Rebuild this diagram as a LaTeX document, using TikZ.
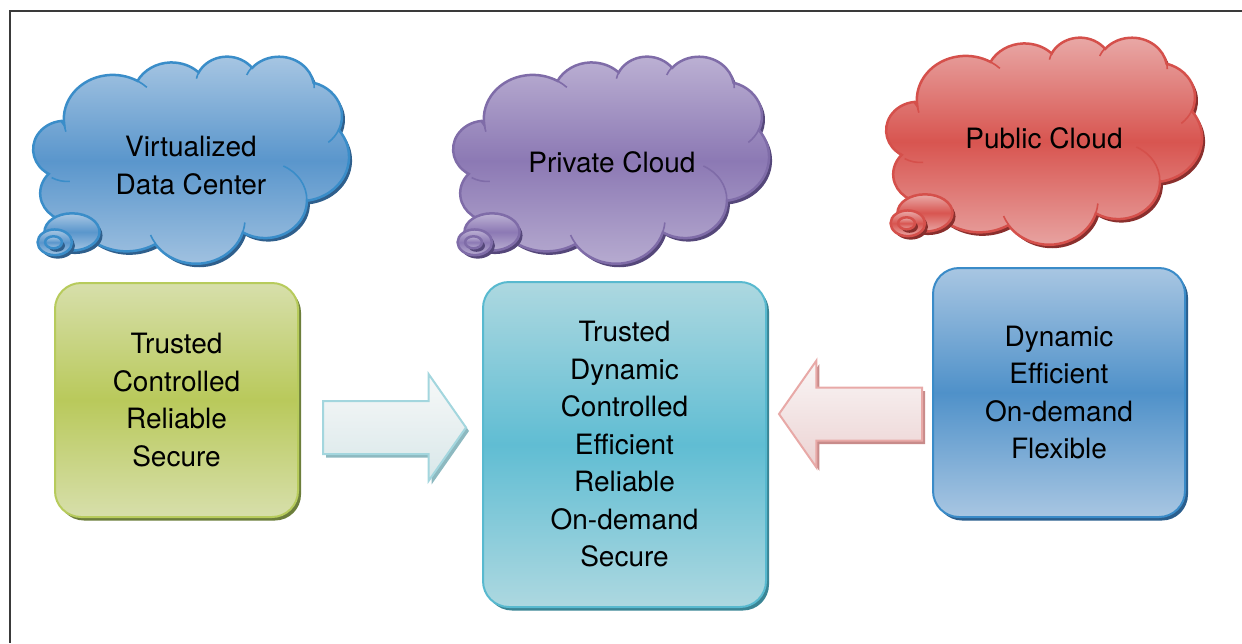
\documentclass[tikz,border=0pt]{standalone}
\usepackage{fontspec}
\setmainfont{TeX Gyre Heros}
\usetikzlibrary{shapes.arrows,shadows}

\definecolor{framecol}{HTML}{3A3A3A}
% clouds
\definecolor{vdcTop}{HTML}{A9C7E3}\definecolor{vdcMid}{HTML}{5A96CC}\definecolor{vdcBot}{HTML}{A3C3E1}
\definecolor{vdcLine}{HTML}{3A8DC9}\definecolor{vdcDark}{HTML}{2F5F8C}
\definecolor{prvTop}{HTML}{BDB2D4}\definecolor{prvMid}{HTML}{8C79B4}\definecolor{prvBot}{HTML}{B8ADD1}
\definecolor{prvLine}{HTML}{7F6CA8}\definecolor{prvDark}{HTML}{55477A}
\definecolor{pubTop}{HTML}{E9ABA9}\definecolor{pubMid}{HTML}{D85550}\definecolor{pubBot}{HTML}{E8A6A4}
\definecolor{pubLine}{HTML}{D5504B}\definecolor{pubDark}{HTML}{8A2F2D}
% boxes
\definecolor{grnTop}{HTML}{D7DFAB}\definecolor{grnMid}{HTML}{B9C95B}\definecolor{grnLine}{HTML}{B7CB5C}\definecolor{grnDark}{HTML}{6C7E3B}
\definecolor{tealTop}{HTML}{ADD8E0}\definecolor{tealMid}{HTML}{60BDD3}\definecolor{tealLine}{HTML}{58B9CF}\definecolor{tealDark}{HTML}{3A8595}
\definecolor{bluTop}{HTML}{A8C6E2}\definecolor{bluMid}{HTML}{4F91C9}\definecolor{bluLine}{HTML}{3A8BC8}\definecolor{bluDark}{HTML}{2A5E8D}
% block arrows
\definecolor{raTop}{HTML}{F7F8F8}\definecolor{raBot}{HTML}{D8E7E9}\definecolor{raLine}{HTML}{A3D6DE}\definecolor{raDark}{HTML}{8DB9C0}
\definecolor{laTop}{HTML}{F9F6F6}\definecolor{laBot}{HTML}{ECD2D2}\definecolor{laLine}{HTML}{E8A9A7}\definecolor{laDark}{HTML}{C88B8A}

% cloud outline on a 100x100 grid (y downwards)
\newcommand{\cloudbody}{(9.03,33.26)
  arc[start angle=-187.74, end angle=-59.64, x radius=15.63, y radius=21.27]
  arc[start angle=-152.03, end angle=-45.44, x radius=12.34, y radius=16.82]
  arc[start angle=-153.50, end angle=-37.33, x radius=10.10, y radius=13.76]
  arc[start angle=-139.72, end angle=-10.21, x radius=11.24, y radius=15.27]
  arc[start angle=-74.76, end angle=23.20, x radius=12.34, y radius=16.84]
  arc[start angle=-37.52, end angle=81.86, x radius=15.68, y radius=21.34]
  arc[start angle=0.46, end angle=121.99, x radius=13.39, y radius=18.21]
  arc[start angle=16.85, end angle=146.23, x radius=15.63, y radius=21.33]
  arc[start angle=58.98, end angle=155.96, x radius=17.87, y radius=24.41]
  arc[start angle=83.31, end angle=223.10, x radius=10.09, y radius=13.70]
  arc[start angle=120.34, end angle=264.11, x radius=10.06, y radius=13.76] -- cycle}
% the little folds inside the cloud
\newcommand{\cloudfolds}{
  (10.86,60.59) arc[start angle=85.54, end angle=120.34, x radius=10.06, y radius=13.76]
  (16.04,80.78) arc[start angle=68.23, end angle=83.31, x radius=10.09, y radius=13.70]
  (38.14,90.49) arc[start angle=146.23, end angle=158.47, x radius=15.63, y radius=21.33]
  (66.73,80.44) arc[start angle=4.73, end angle=16.85, x radius=15.63, y radius=21.33]
  (79.00,53.13) arc[start angle=-64.02, end angle=0.46, x radius=13.39, y radius=18.21]
  (96.75,35.54) arc[start angle=23.20, end angle=49.63, x radius=12.34, y radius=16.84]
  (88.71,12.56) arc[start angle=-10.21, end angle=0.82, x radius=11.24, y radius=15.27]
  (67.31,9.15) arc[start angle=-156.30, end angle=-139.72, x radius=11.24, y radius=15.27]
  (51.25,10.93) arc[start angle=-167.73, end angle=-153.50, x radius=10.10, y radius=13.76]
  (32.41,12.02) arc[start angle=-59.64, end angle=-45.74, x radius=15.63, y radius=21.27]
  (9.55,36.55) arc[start angle=163.19, end angle=172.26, x radius=15.63, y radius=21.27]}

\tikzset{
  lbl/.style={font=\fontsize{28}{37.5}\selectfont, align=center, inner sep=0pt},
  dropsh/.style={drop shadow={shadow xshift=3pt, shadow yshift=-3.5pt, fill=#1, opacity=1}},
  card/.style={draw, line width=2pt, rounded corners=26pt, lbl},
  blk/.style={single arrow, draw, line width=2pt, inner xsep=0pt, inner ysep=25.5pt,
    minimum height=143pt, single arrow head extend=27pt, single arrow tip angle=110},
  vdcsky/.style={puff/.style={draw=vdcLine, line width=2.5pt, top color=vdcTop, bottom color=vdcBot, middle color=vdcMid, dropsh=vdcDark},
    fold/.style={draw=vdcLine, line width=1.6pt}},
  prvsky/.style={puff/.style={draw=prvLine, line width=2.5pt, top color=prvTop, bottom color=prvBot, middle color=prvMid, dropsh=prvDark},
    fold/.style={draw=prvLine, line width=1.6pt}},
  pubsky/.style={puff/.style={draw=pubLine, line width=2.5pt, top color=pubTop, bottom color=pubBot, middle color=pubMid, dropsh=pubDark},
    fold/.style={draw=pubLine, line width=1.6pt}},
}

\begin{document}
\begin{tikzpicture}[x=1pt, y=-1pt]
\useasboundingbox (0,0) rectangle (1242,643);
\draw[framecol, line width=2pt] (1242,11) -- (10,11) -- (10,643);

% three thought clouds
\foreach \cx/\cy/\sty in {36/56/vdcsky, 456/56/prvsky, 889/37/pubsky} {
  \begin{scope}[shift={(\cx pt,-\cy pt)}, x=3.13pt, y=-2.07pt, \sty]
    \path[puff] \cloudbody;
    \path[fold] \cloudfolds;
    \path[puff] (11.5,85) ellipse[x radius=8.8, y radius=9];
    \path[puff] (6,90) ellipse[x radius=5.5, y radius=6.2];
    \path[puff] (5.6,90) ellipse[x radius=2.7, y radius=2.9];
  \end{scope}
}
\node[lbl] (vdctxt) at (191,165.5) {Virtualized\\Data Center};
\node[lbl] (prvtxt) at (612,162) {Private Cloud};
\node[lbl] (pubtxt) at (1044,138) {Public Cloud};

% property boxes
\node[card, draw=grnLine, top color=grnTop, bottom color=grnTop, middle color=grnMid, dropsh=grnDark,
  minimum width=243pt, minimum height=234pt] (trad) at (176.5,400) {Trusted\\Controlled\\Reliable\\Secure};
\node[card, draw=tealLine, top color=tealTop, bottom color=tealTop, middle color=tealMid, dropsh=tealDark,
  minimum width=283pt, minimum height=325pt] (priv) at (624.5,444.5) {Trusted\\Dynamic\\Controlled\\Efficient\\Reliable\\On-demand\\Secure};
\node[card, draw=bluLine, top color=bluTop, bottom color=bluTop, middle color=bluMid, dropsh=bluDark,
  minimum width=252pt, minimum height=249pt] (pub) at (1059,392.5) {Dynamic\\Efficient\\On-demand\\Flexible};

% block arrows into the private cloud
\node[blk, anchor=tail, draw=raLine, top color=raTop, bottom color=raBot, dropsh=raDark] (toprv) at (322,427.5) {};
\node[blk, shape border rotate=180, anchor=tail, draw=laLine, top color=laTop, bottom color=laBot, dropsh=laDark] (fromprv) at (923,414) {};
\end{tikzpicture}
\end{document}
